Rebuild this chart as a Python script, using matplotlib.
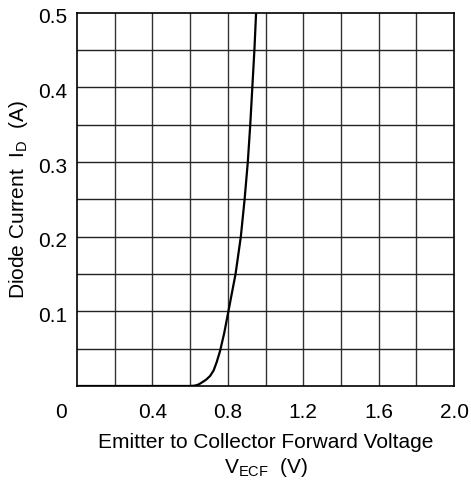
import numpy as np
import matplotlib
matplotlib.use('Agg')
from matplotlib import pyplot as plt
from matplotlib.transforms import ScaledTranslation

plt.rcParams['font.family'] = ['Liberation Sans', 'DejaVu Sans']
plt.rcParams['mathtext.fontset'] = 'custom'
plt.rcParams['mathtext.rm'] = 'Liberation Sans'

# forward characteristic of the emitter-collector diode
v_ecf = [0.0, 0.60, 0.625, 0.645, 0.661, 0.685, 0.706, 0.725, 0.741, 0.759,
         0.781, 0.803, 0.822, 0.841, 0.869, 0.889, 0.906, 0.919, 0.930,
         0.941, 0.950]
i_d = [0.0, 0.0, 0.0005, 0.0020, 0.0045, 0.0085, 0.0134, 0.021, 0.032, 0.047,
       0.071, 0.100, 0.125, 0.150, 0.200, 0.250, 0.300, 0.350, 0.400,
       0.450, 0.500]

x_ticks = [0, 0.4, 0.8, 1.2, 1.6, 2.0]
x_labels = ['0', '0.4', '0.8', '1.2', '1.6', '2.0']
y_ticks = [0.1, 0.2, 0.3, 0.4, 0.5]
y_labels = ['0.1', '0.2', '0.3', '0.4', '0.5']

fig = plt.figure(figsize=(4.71, 4.84), dpi=100)
ax = fig.add_axes([0.1635, 0.2025, 0.8005, 0.7713])

ax.set_xlim(0, 2.0)
ax.set_ylim(0, 0.5)

# 10 x 10 grid
for gx in np.arange(0.2, 2.0, 0.2):
    ax.axvline(gx, color='#333333', lw=1.0, zorder=1)
for gy in np.arange(0.05, 0.5, 0.05):
    ax.axhline(gy, color='#222222', lw=1.0, zorder=1)

ax.plot(v_ecf, i_d, color='black', lw=1.6, zorder=3)

for s in ax.spines.values():
    s.set_linewidth(1.2)
    s.set_color('black')

ax.set_xticks(x_ticks)
ax.set_xticklabels(x_labels)
ax.set_yticks(y_ticks)
ax.set_yticklabels(y_labels)
ax.tick_params(length=0, labelsize=15)
ax.tick_params(axis='x', pad=12)
ax.tick_params(axis='y', pad=7)

# origin label sits left of the corner, y labels slightly below their lines
lbl0 = ax.get_xticklabels()[0]
lbl0.set_transform(lbl0.get_transform() + ScaledTranslation(-16 / 100, 0, fig.dpi_scale_trans))
for lbl in ax.get_yticklabels():
    lbl.set_transform(lbl.get_transform() + ScaledTranslation(0, -3 / 100, fig.dpi_scale_trans))

ax.set_xlabel('Emitter to Collector Forward Voltage\n' + r'$\mathregular{V_{ECF}}$  (V)',
              fontsize=15, labelpad=8.5, linespacing=1.2)
ax.set_ylabel(r'Diode Current  $\mathregular{I_D}$  (A)', fontsize=15, labelpad=6)

fig.savefig('out.png', dpi=100)
